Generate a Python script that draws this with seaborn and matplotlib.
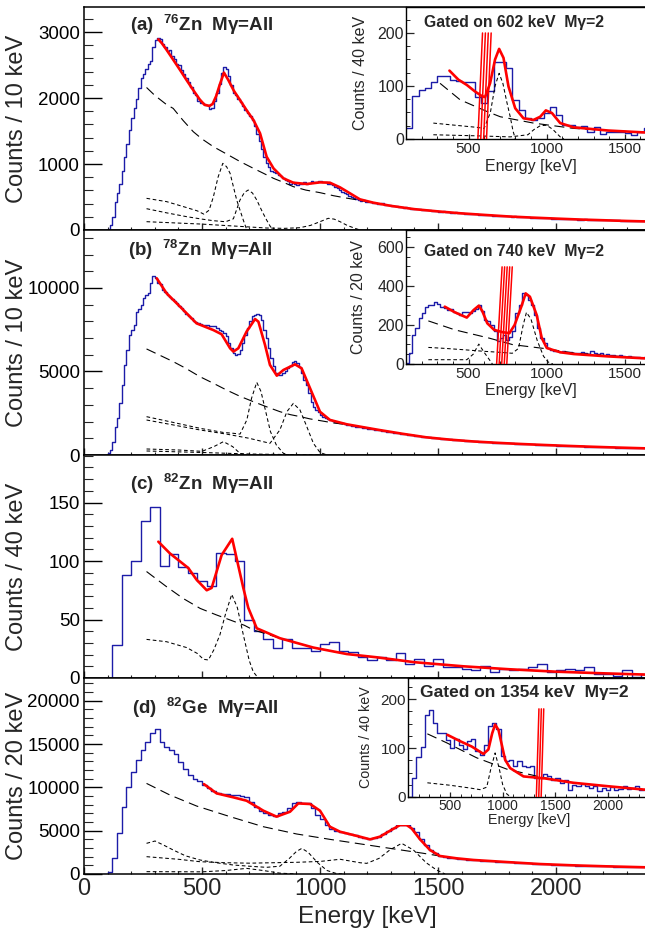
import numpy as np
import matplotlib
matplotlib.use("Agg")
import matplotlib.pyplot as plt
from matplotlib.ticker import MultipleLocator
import seaborn as sns

sns.set_theme(style="ticks")
plt.rcParams['font.family'] = ['Liberation Sans', 'DejaVu Sans']
plt.rcParams['mathtext.fontset'] = 'custom'
plt.rcParams['mathtext.rm'] = 'Liberation Sans'
plt.rcParams['mathtext.bf'] = 'Liberation Sans:bold'
plt.rcParams['mathtext.it'] = 'Liberation Sans:italic'

# ---------------- data ----------------
# (a) 76Zn, 10 keV bins starting at 90 keV
a_start, a_width = 90, 10
a_counts = [0,
    20, 80, 200, 430, 560, 700, 900, 1100, 1300, 1520,
    1700, 1850, 1990, 2150, 2300, 2360, 2440, 2520, 2560, 2780,
    2880, 2910, 2900, 2820, 2780, 2720, 2730, 2640, 2590, 2520,
    2500, 2430, 2370, 2300, 2250, 2170, 2080, 2050, 1950, 1930,
    1920, 1890, 1900, 1840, 1850, 1960, 2080, 2220, 2380, 2470,
    2440, 2330, 2200, 2080, 2040, 1980, 1940, 1880, 1820, 1770,
    1730, 1660, 1580, 1460, 1350, 1230, 1110, 1010, 960, 900,
    880, 860, 840, 820, 790, 760, 750, 700, 720, 690,
    680, 700, 700, 720, 700, 710, 740, 720, 730, 740,
    740, 720, 730, 700, 690, 680, 650, 640, 600, 580,
    560, 540, 520, 500, 480, 470, 460, 445, 450, 430,
    420, 425, 410, 415, 400, 395, 405, 385, 380, 375,
    370, 360, 365, 350, 345, 340, 352, 330, 325, 322,
    318, 312, 315, 305, 300, 296, 300, 290, 286, 288,
    280, 276, 282, 270, 268, 264, 262, 266, 256, 254,
    252, 248, 250, 242, 240, 238, 242, 232, 230, 228,
    226, 224, 228, 218, 216, 214, 215, 210, 208, 206,
    205, 203, 206, 198, 197, 195, 196, 192, 190, 188,
    187, 185, 188, 182, 180, 179, 181, 176, 174, 173,
    172, 170, 172, 167, 166, 165, 166, 162, 160, 159,
    158, 157, 160, 154, 153, 152, 154, 150, 148, 147,
    149, 148, 151, 146, 145, 144, 146, 142, 141, 140,
    139, 138, 141, 136, 135, 134, 136, 132, 131, 130]
a_fit_x = [315, 330, 350, 380, 407, 435, 463, 490, 510, 531, 545, 560, 575, 593, 612, 635, 661, 690, 718,
           746, 774, 803, 845, 887, 944, 1000, 1042, 1085, 1127, 1169, 1226, 1300, 1400, 1500, 1600, 1700,
           1800, 1900, 2000, 2100, 2200, 2300, 2400]
a_fit_y = [2890, 2830, 2730, 2570, 2425, 2270, 2120, 1980, 1900, 1880, 1910, 2030, 2200, 2385, 2270, 2110,
           1970, 1810, 1667, 1465, 1110, 934, 783, 717, 697, 722, 717, 646, 556, 465, 414, 366, 316, 282,
           252, 228, 205, 188, 173, 159, 148, 137, 128]
a_bg_x = [265, 300, 350, 378, 420, 463, 500, 548, 604, 660, 718, 760, 803, 850, 887, 940, 1000, 1057, 1110,
          1169, 1226, 1300, 1400, 1500, 1600, 1700, 1800, 1900, 2000, 2100, 2200, 2300, 2400]
a_bg_y = [2160, 2040, 1900, 1843, 1660, 1490, 1380, 1263, 1152, 1040, 934, 860, 783, 715, 657, 605, 566, 520,
          485, 450, 414, 366, 316, 282, 252, 228, 205, 188, 173, 159, 148, 137, 128]
a_c1_x = [265, 350, 430, 480, 508, 530, 548, 568, 588, 604, 619, 647, 675, 690]
a_c1_y = [480, 430, 345, 290, 240, 300, 500, 800, 1010, 960, 860, 455, 150, 0]
a_c2_x = [265, 350, 435, 500, 548, 600, 633, 661, 680, 696, 714, 732, 755, 774, 790, 805]
a_c2_y = [323, 260, 202, 165, 141, 125, 170, 455, 570, 606, 560, 455, 280, 150, 50, 0]
a_c3_x = [265, 400, 491, 632, 774, 850, 915, 960, 1000, 1035, 1060, 1085, 1115, 1141, 1169]
a_c3_y = [126, 105, 91, 61, 30, 25, 35, 70, 126, 177, 165, 126, 70, 35, 0]

# (a) inset: gated on 602 keV, 40 keV bins
ia_start, ia_width = 100, 40
ia_counts = [20, 81, 93, 96, 108, 118, 118, 112, 110, 108, 108, 79, 68, 90, 146, 146, 134, 74, 55, 39,
             36, 39, 49, 60, 45, 26, 27, 22, 25, 14, 23, 10, 14, 13, 14, 11, 8, 13, 21, 13]
ia_fit_x = [378, 435, 489, 540, 585, 606, 638, 670, 696, 724, 756, 799, 852, 916, 959, 995, 1034, 1087,
            1173, 1393, 1611, 1700]
ia_fit_y = [129, 112, 102, 90, 81, 79, 105, 150, 170, 153, 99, 58, 39, 36, 42, 54, 49, 30, 22, 16, 12.6, 11.5]
ia_bg_x = [318, 446, 617, 703, 916, 1173, 1393, 1700]
ia_bg_y = [105, 74, 52, 42, 30, 20, 16, 11.5]
ia_c1_x = [275, 413, 553, 600, 640, 670, 696, 720, 745, 767, 785, 800]
ia_c1_y = [30, 26, 22, 20, 50, 100, 124, 105, 70, 42, 15, 0]
ia_c2_x = [275, 550, 767, 880, 920, 959, 1000, 1040, 1087, 1110]
ia_c2_y = [8, 6, 4, 8, 18, 25, 26, 18, 4, 0]
ia_gate = [560, 645]
ia_gate_y = [0, 200]

# (b) 78Zn, 10 keV bins starting at 90 keV
b_start, b_width = 90, 10
b_counts = [0,
    100, 300, 800, 1700, 2200, 3100, 4200, 5400, 6300, 7200,
    7500, 7800, 8540, 8750, 8980, 9420, 9550, 9680, 10280, 10740,
    10600, 10300, 10250, 9900, 9780, 9600, 9450, 9340, 9200, 9100,
    8900, 8780, 8600, 8450, 8300, 8180, 8050, 7980, 7880, 7850,
    7800, 7780, 7760, 7700, 7750, 7700, 7580, 7500, 7400, 7280,
    7150, 6690, 6400, 6090, 6000, 6050, 6290, 6700, 7190, 7600,
    8000, 8340, 8400, 8420, 8380, 8080, 7500, 6990, 6400, 5790,
    5300, 4890, 4800, 4790, 4900, 5050, 5190, 5350, 5590, 5620,
    5500, 5290, 4900, 4500, 4190, 3700, 3190, 2900, 2700, 2550,
    2400, 2300, 2240, 2150, 2100, 2040, 2000, 1960, 1920, 1890,
    1860, 1820, 1790, 1750, 1720, 1700, 1680, 1650, 1630, 1600,
    1580, 1560, 1530, 1510, 1490, 1470, 1450, 1430, 1400, 1380,
    1360, 1340, 1320, 1300, 1280, 1260, 1240, 1220, 1200, 1180,
    1160, 1140, 1110, 1100, 1080, 1070, 1050, 1040, 1020, 1000,
    990, 980, 960, 950, 940, 930, 910, 900, 890, 880,
    870, 860, 850, 840, 830, 820, 810, 800, 790, 780,
    770, 760, 750, 745, 740, 730, 720, 715, 710, 700,
    695, 690, 680, 675, 670, 660, 655, 650, 645, 640,
    630, 625, 620, 615, 610, 600, 595, 590, 580, 570,
    565, 560, 555, 550, 545, 540, 535, 530, 525, 520,
    515, 510, 505, 500, 495, 490, 485, 480, 478, 475,
    470, 465, 460, 455, 450, 446, 442, 440, 436, 432,
    428, 424, 420, 415, 410, 405, 400, 395, 390, 385]
b_fit_x = [308, 350, 407, 477, 548, 583, 619, 633, 654, 689, 725, 739, 767, 788, 817, 845, 894, 922, 958,
           1000, 1042, 1113, 1169, 1250, 1350, 1450, 1550, 1650, 1750, 1850, 1950, 2050, 2150, 2250, 2400]
b_fit_y = [10580, 9680, 8880, 7880, 7480, 7230, 6390, 6190, 6390, 7390, 8140, 7980, 6590, 5390, 4750, 5090,
           5430, 5190, 3990, 2590, 2100, 1840, 1700, 1500, 1270, 1060, 920, 810, 730, 660, 600, 545, 495,
           450, 390]
b_bg_x = [265, 320, 378, 430, 491, 550, 604, 660, 718, 775, 831, 873, 915, 958, 1000, 1057, 1113, 1169, 1250,
          1350, 1450, 1550, 1650, 1750, 1850, 1950, 2050, 2150, 2250, 2400]
b_bg_y = [6350, 5980, 5590, 5200, 4690, 4280, 3890, 3520, 3190, 2880, 2590, 2420, 2300, 2160, 2060, 1920,
          1820, 1700, 1500, 1270, 1060, 920, 810, 730, 660, 600, 545, 495, 450, 390]
b_c1_x = [265, 378, 491, 590, 633, 661, 690, 710, 732, 750, 770, 790, 815, 845, 870]
b_c1_y = [2295, 1950, 1600, 1350, 1300, 1250, 2100, 3400, 4350, 3800, 2600, 1400, 600, 100, 0]
b_c2_x = [265, 378, 491, 604, 700, 788, 830, 860, 887, 915, 944, 972, 1000, 1030]
b_c2_y = [2095, 1800, 1500, 1250, 1000, 700, 1500, 2600, 3090, 2700, 1700, 700, 150, 0]
b_c3_x = [265, 400, 500, 550, 591, 630, 661, 690]
b_c3_y = [360, 300, 220, 500, 800, 500, 100, 0]
b_c4_x = [265, 500, 700, 900, 1000]
b_c4_y = [240, 150, 60, 20, 0]

# (b) inset: gated on 740 keV, 20 keV bins
ib_start, ib_width = 100, 20
ib_counts = [5, 56, 150, 184, 235, 260, 294, 303, 303, 316, 306, 294, 286, 277, 282, 265, 260, 252, 265, 265,
             260, 272, 280, 303, 272, 226, 218, 200, 167, 116, 133, 150, 124, 140, 167, 260, 303, 362, 354, 328,
             300, 250, 184, 133, 107, 82, 73, 68, 65, 62, 66, 60, 64, 56, 58, 54, 62, 57, 52, 66,
             55, 50, 54, 47, 52, 44, 48, 42, 46, 40, 38, 42, 36, 34, 38, 32, 35, 30, 33, 29]
ib_fit_x = [348, 413, 489, 533, 566, 588, 620, 664, 719, 762, 795, 838, 866, 893, 936, 969, 1001, 1088, 1175,
            1393, 1700]
ib_fit_y = [294, 265, 238, 277, 299, 272, 209, 175, 163, 158, 200, 294, 362, 345, 252, 133, 82, 60, 51, 39, 26]
ib_bg_x = [243, 413, 631, 784, 1001, 1175, 1393, 1700]
ib_bg_y = [221, 175, 133, 99, 78, 56, 42, 26]
ib_c1_x = [243, 350, 489, 600, 700, 780, 820, 850, 871, 900, 940, 980, 1010, 1040]
ib_c1_y = [85, 80, 72, 65, 60, 55, 80, 200, 265, 230, 120, 40, 10, 0]
ib_c2_x = [243, 489, 530, 566, 600, 631, 653]
ib_c2_y = [22, 22, 50, 102, 60, 25, 0]
ib_gate = [680, 780]
ib_gate_y = [0, 498]

# (c) 82Zn, 40 keV bins starting at 80 keV
c_start, c_width = 80, 40
c_counts = [0, 28, 88, 100, 134, 146, 96, 106, 95, 90, 83, 79, 107, 106, 100, 50, 40, 33, 26, 33,
            26, 26, 23, 29, 31, 23, 22, 18, 15, 18, 15, 21, 12, 16, 10, 16, 9, 9, 8, 7,
            10, 5, 8, 7, 8, 9, 12, 5, 7, 8, 7, 9, 3, 3, 2, 7, 1, 3]
c_fit_x = [315, 364, 442, 477, 520, 541, 583, 628, 675, 696, 732, 830, 972, 1113, 1240, 1400, 1607, 1800,
           2000, 2200, 2400]
c_fit_y = [116.5, 106.5, 94, 84, 75, 77, 105, 119, 77, 60, 42.5, 34, 26, 20.5, 17.7, 13.5, 10, 7.5, 5.4, 4, 2.8]
c_bg_x = [265, 350, 420, 492, 560, 619, 680, 718, 760, 830, 972, 1113, 1240, 1400, 1607, 1800, 2000, 2200, 2400]
c_bg_y = [91, 78, 68, 59.5, 54, 49.6, 45, 41, 38.5, 34, 26, 20.5, 17.7, 13.5, 10, 7.5, 5.4, 4, 2.8]
c_c1_x = [265, 350, 435, 480, 506, 527, 550, 576, 600, 626, 650, 675, 700, 717, 738]
c_c1_y = [33, 31, 26, 21, 16, 15.4, 24, 37, 55, 71.5, 60, 37, 15, 5.4, 0]

# (d) 82Ge, 20 keV bins starting at 80 keV
d_start, d_width = 80, 20
d_counts = [0,
    190, 1800, 4770, 7770, 10000, 11800, 13150, 14300, 15270, 16230,
    16690, 15270, 14690, 14300, 13850, 12960, 12080, 11420, 10920, 10730,
    10270, 9880, 9580, 9310, 9230, 9230, 9120, 9120, 9000, 8850,
    8350, 7770, 7300, 7000, 6810, 6690, 7000, 7190, 7580, 8150,
    8350, 8230, 8230, 7580, 6810, 6310, 5650, 5150, 5000, 4880,
    4770, 4620, 4500, 4310, 4150, 4000, 4100, 4300, 4600, 5000,
    5350, 5600, 5650, 5650, 5350, 4800, 4000, 3300, 2800, 2400,
    2100, 1950, 1850, 1800, 1760, 1700, 1660, 1620, 1580, 1540,
    1510, 1480, 1440, 1410, 1380, 1350, 1320, 1290, 1250, 1220,
    1190, 1160, 1130, 1110, 1090, 1060, 1040, 1020, 1000, 980,
    960, 950, 930, 910, 900, 890, 870, 860, 850, 840,
    820, 810, 800, 790, 770]
d_fit_x = [508, 562, 633, 689, 760, 816, 873, 908, 958, 1000, 1042, 1085, 1169, 1212, 1254, 1297, 1339, 1367,
           1388, 1424, 1466, 1508, 1579, 1650, 1791, 1932, 2073, 2215, 2400]
d_fit_y = [10380, 9310, 8850, 8460, 7310, 6620, 7190, 8150, 8080, 7310, 5460, 4880, 4310, 4000, 4310, 5000,
           5650, 5650, 5270, 4000, 2770, 2080, 1810, 1620, 1380, 1150, 1000, 885, 760]
d_bg_x = [265, 364, 477, 619, 760, 901, 1042, 1155, 1297, 1438, 1579, 1650, 1791, 1932, 2073, 2215, 2400]
d_bg_y = [10460, 9120, 7850, 6620, 5460, 4620, 4000, 3540, 2960, 2390, 1760, 1600, 1380, 1150, 1000, 885, 760]
d_c1_x = [265, 301, 340, 378, 430, 491, 560, 632, 700, 773, 830, 870, 900, 923, 950, 990, 1030, 1070, 1100]
d_c1_y = [3540, 3810, 3300, 2770, 2100, 1620, 1300, 1040, 900, 770, 900, 1800, 2600, 2960, 2500, 1300, 400, 50, 0]
d_c2_x = [265, 400, 491, 600, 700, 800, 900, 1000, 1085, 1170, 1198, 1250, 1297, 1346, 1396, 1450, 1494, 1530]
d_c2_y = [2000, 1700, 1420, 1300, 1250, 1300, 1350, 1450, 1700, 1300, 1230, 1800, 2800, 3540, 2770, 1300, 460, 0]
d_c3_x = [265, 400, 500, 600, 689, 760, 830, 900]
d_c3_y = [270, 260, 250, 400, 650, 400, 100, 0]

# (d) inset: gated on 1354 keV, 40 keV bins
id_start, id_width = 100, 40
id_counts = [0, 39, 82, 103, 168, 178, 151, 131, 131, 117, 100, 118, 107, 97, 114, 118, 93, 86, 107, 144,
             152, 139, 83, 73, 76, 63, 73, 64, 61, 64, 39, 39, 46, 42, 35, 39, 29, 35, 15, 25,
             22, 27, 22, 18, 23, 12, 18, 15, 20, 15, 16, 23, 16, 18, 23, 15, 16, 14]
id_fit_x = [474, 595, 706, 817, 864, 900, 928, 960, 1023, 1071, 1198, 1400, 1673, 2000, 2400]
id_fit_y = [127, 114, 103, 88, 97, 130, 148, 137, 76, 59, 42, 38, 29, 22, 14]
id_bg_x = [284, 474, 753, 1038, 1355, 1673, 2000, 2400]
id_bg_y = [129, 110, 80, 57, 41, 29, 22, 14]
id_c1_x = [284, 500, 700, 785, 848, 890, 928, 965, 1000, 1040, 1071]
id_c1_y = [29, 24, 18, 15, 20, 60, 90, 60, 25, 6, 1]
id_gate = [1320, 1390]
id_gate_y = [0, 180]

# ---------------- helpers ----------------
W, H = 645, 944
BLUE = "#1c1ca8"


def px_rect(left, top, right, bottom):
    return [left / W, 1 - bottom / H, (right - left) / W, (bottom - top) / H]


def draw_hist(ax, start, width, counts, lw=1.0):
    counts = np.asarray(counts, dtype=float)
    n = len(counts)
    centers = start + width * (np.arange(n) + 0.5)
    sns.histplot(x=centers, weights=counts, binwidth=width, binrange=(start, start + n * width),
                 element="step", fill=False, color=BLUE, linewidth=lw, ax=ax)


def draw_line(ax, x, y, kind, scale=1.0):
    if kind == "fit":
        sns.lineplot(x=x, y=y, ax=ax, color="#ff0000", linewidth=1.9 * scale,
                     estimator=None, sort=False, zorder=5)
    elif kind == "bg":
        sns.lineplot(x=x, y=y, ax=ax, color="black", linewidth=0.8,
                     linestyle=(0, (9, 5)), estimator=None, sort=False, zorder=4)
    else:
        sns.lineplot(x=x, y=y, ax=ax, color="black", linewidth=0.75,
                     linestyle=(0, (3.5, 2.5)), estimator=None, sort=False, zorder=4)


def draw_gate(ax, gate, gate_y, n=4):
    # hatched gate window: slanted red lines
    lo, hi = gate
    slant = 0.35 * (hi - lo)
    for x0 in np.linspace(lo, hi - slant, n):
        ax.plot([x0, x0 + slant], gate_y, color="red", linewidth=1.1, zorder=6)


def style_main(ax, ylim, major, minor, ylabel, show_x=False):
    ax.set_xlim(0, 2400)
    ax.set_ylim(*ylim)
    ax.xaxis.set_major_locator(MultipleLocator(500))
    ax.xaxis.set_minor_locator(MultipleLocator(100))
    ax.yaxis.set_major_locator(MultipleLocator(major))
    ax.yaxis.set_minor_locator(MultipleLocator(minor))
    ax.tick_params(axis="y", which="major", direction="in", length=13, width=1.0,
                   labelsize=13.5, pad=3, colors="black")
    ax.tick_params(axis="y", which="minor", direction="in", length=6.5, width=0.8)
    ax.tick_params(axis="x", which="major", direction="in", length=5, width=1.0,
                   labelsize=17, pad=3, labelbottom=show_x)
    ax.tick_params(axis="x", which="minor", direction="in", length=2.5, width=0.8)
    ax.set_ylabel(ylabel, fontsize=17)
    ax.yaxis.set_label_coords(-0.099, 0.5)
    ax.set_xlabel("")
    for s in ax.spines.values():
        s.set_linewidth(1.1)
        s.set_color("black")


def style_inset(ax, xlim, ylim, major, minor, ylabel, title, xmajor, fs):
    ax.set_xlim(*xlim)
    ax.set_ylim(*ylim)
    ax.xaxis.set_major_locator(MultipleLocator(xmajor))
    ax.xaxis.set_minor_locator(MultipleLocator(100))
    ax.yaxis.set_major_locator(MultipleLocator(major))
    ax.yaxis.set_minor_locator(MultipleLocator(minor))
    ax.tick_params(axis="y", which="major", direction="in", length=6, width=0.9,
                   labelsize=fs["ytick"], pad=1.5)
    ax.tick_params(axis="y", which="minor", direction="in", length=3, width=0.7)
    ax.tick_params(axis="x", which="major", direction="in", length=3.5, width=0.9,
                   labelsize=fs["xtick"], pad=fs["xpad"])
    ax.tick_params(axis="x", which="minor", direction="in", length=2, width=0.7)
    ax.set_ylabel(ylabel, fontsize=fs["label"])
    ax.yaxis.set_label_coords(fs["ylx"], 0.5)
    ax.set_xlabel("Energy [keV]", fontsize=fs["label"])
    ax.xaxis.set_label_coords(0.5, fs["xly"])
    ax.text(fs["tx"], fs["ty"], title, transform=ax.transAxes, fontsize=fs["title"],
            fontweight="bold", ha="left", va="center")
    for s in ax.spines.values():
        s.set_linewidth(1.0)
        s.set_color("black")


def add_pad(fig, rect):
    pad = fig.add_axes(rect)
    pad.set_facecolor("white")
    pad.set_xticks([])
    pad.set_yticks([])
    for s in pad.spines.values():
        s.set_visible(False)
    return pad


# ---------------- figure ----------------
fig = plt.figure(figsize=(6.45, 9.44), dpi=100)

# panel (a)
ax = fig.add_axes(px_rect(84, 7, 650.4, 230))
draw_hist(ax, a_start, a_width, a_counts)
for cx, cy in [(a_c1_x, a_c1_y), (a_c2_x, a_c2_y), (a_c3_x, a_c3_y)]:
    draw_line(ax, cx, cy, "comp")
draw_line(ax, a_bg_x, a_bg_y, "bg")
draw_line(ax, a_fit_x, a_fit_y, "fit")
style_main(ax, (0, 3380), 1000, 200, "Counts / 10 keV")
ax.text(0.081, 0.919, "(a)  $^{\\mathbf{76}}$Zn  M\u03b3=All", transform=ax.transAxes,
        fontsize=13.5, fontweight="bold", ha="left", va="center")

add_pad(fig, px_rect(330, 8.5, 645, 173))
axi = fig.add_axes(px_rect(406, 7, 656, 139))
draw_hist(axi, ia_start, ia_width, ia_counts)
draw_line(axi, ia_c1_x, ia_c1_y, "comp")
draw_line(axi, ia_c2_x, ia_c2_y, "comp")
draw_line(axi, ia_bg_x, ia_bg_y, "bg")
draw_line(axi, ia_fit_x, ia_fit_y, "fit")
draw_gate(axi, ia_gate, ia_gate_y, n=4)
fs_ab = dict(ytick=11.5, xtick=11, label=11.5, title=11.3, xpad=2.5, ylx=-0.152, xly=-0.148, tx=0.07)
style_inset(axi, (100, 1700), (0, 249), 100, 25, "Counts / 40 keV",
            "Gated on 602 keV  M\u03b3=2", 500, dict(fs_ab, ty=0.886))

# panel (b)
ax = fig.add_axes(px_rect(84, 230, 650.4, 455))
draw_hist(ax, b_start, b_width, b_counts)
for cx, cy in [(b_c1_x, b_c1_y), (b_c2_x, b_c2_y), (b_c3_x, b_c3_y), (b_c4_x, b_c4_y)]:
    draw_line(ax, cx, cy, "comp")
draw_line(ax, b_bg_x, b_bg_y, "bg")
draw_line(ax, b_fit_x, b_fit_y, "fit")
style_main(ax, (0, 13470), 5000, 1000, "Counts / 10 keV")
ax.text(0.078, 0.911, "(b)  $^{\\mathbf{78}}$Zn  M\u03b3=All", transform=ax.transAxes,
        fontsize=13.5, fontweight="bold", ha="left", va="center")

add_pad(fig, px_rect(330, 231.5, 645, 398))
axi = fig.add_axes(px_rect(406, 230, 656, 364))
draw_hist(axi, ib_start, ib_width, ib_counts)
draw_line(axi, ib_c1_x, ib_c1_y, "comp")
draw_line(axi, ib_c2_x, ib_c2_y, "comp")
draw_line(axi, ib_bg_x, ib_bg_y, "bg")
draw_line(axi, ib_fit_x, ib_fit_y, "fit")
draw_gate(axi, ib_gate, ib_gate_y, n=5)
style_inset(axi, (100, 1700), (0, 687), 200, 50, "Counts / 20 keV",
            "Gated on 740 keV  M\u03b3=2", 500, dict(fs_ab, ty=0.843, ylx=-0.16, xly=-0.145))

# panel (c)
ax = fig.add_axes(px_rect(84, 455, 650.4, 678))
draw_hist(ax, c_start, c_width, c_counts)
draw_line(ax, c_c1_x, c_c1_y, "comp")
draw_line(ax, c_bg_x, c_bg_y, "bg")
draw_line(ax, c_fit_x, c_fit_y, "fit")
style_main(ax, (0, 190.6), 50, 10, "Counts / 40 keV")
ax.text(0.081, 0.872, "(c)  $^{\\mathbf{82}}$Zn  M\u03b3=All", transform=ax.transAxes,
        fontsize=13.5, fontweight="bold", ha="left", va="center")

# panel (d)
ax = fig.add_axes(px_rect(84, 678, 650.4, 874))
draw_hist(ax, d_start, d_width, d_counts)
for cx, cy in [(d_c1_x, d_c1_y), (d_c2_x, d_c2_y), (d_c3_x, d_c3_y)]:
    draw_line(ax, cx, cy, "comp")
draw_line(ax, d_bg_x, d_bg_y, "bg")
draw_line(ax, d_fit_x, d_fit_y, "fit")
style_main(ax, (0, 22630), 5000, 1000, "Counts / 20 keV", show_x=True)
ax.set_xlabel("Energy [keV]", fontsize=17.5)
ax.xaxis.set_label_coords(0.5, -0.165)
ax.text(0.085, 0.847, "(d)  $^{\\mathbf{82}}$Ge  M\u03b3=All", transform=ax.transAxes,
        fontsize=13.5, fontweight="bold", ha="left", va="center")

add_pad(fig, px_rect(330, 679.5, 645, 825))
axi = fig.add_axes(px_rect(408, 678, 650, 797))
draw_hist(axi, id_start, id_width, id_counts)
draw_line(axi, id_c1_x, id_c1_y, "comp")
draw_line(axi, id_bg_x, id_bg_y, "bg")
draw_line(axi, id_fit_x, id_fit_y, "fit")
draw_gate(axi, id_gate, id_gate_y, n=3)
fs_d = dict(ytick=11, xtick=10, label=10.3, title=12.5, xpad=1.5, ylx=-0.145, xly=-0.135,
            tx=0.05, ty=0.88)
style_inset(axi, (100, 2400), (0, 243), 100, 25, "Counts / 40 keV",
            "Gated on 1354 keV  M\u03b3=2", 500, fs_d)

fig.savefig("out.png", dpi=100)
